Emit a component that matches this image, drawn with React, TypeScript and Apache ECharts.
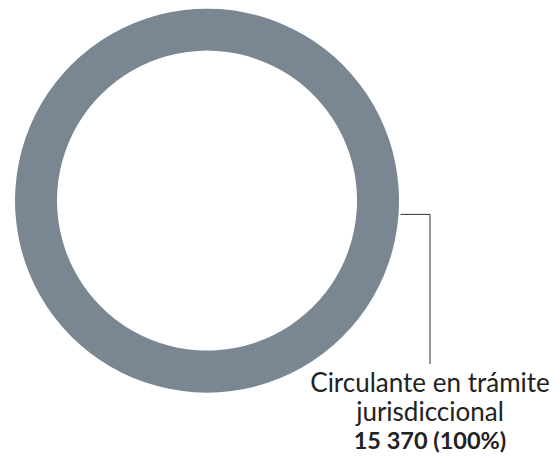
import React, { useEffect, useRef } from "react";
import * as echarts from "echarts";

const categories = ["Circulante en trámite jurisdiccional"];
const labelLines = ["Circulante en trámite", "jurisdiccional"];
const values = [15370];
const colors = ["#7a8792"];

function fmt(n: number): string {
  return String(n).replace(/\B(?=(\d{3})+(?!\d))/g, " ");
}

export default function App() {
  const ref = useRef<HTMLDivElement>(null);
  useEffect(() => {
    if (!ref.current) return;
    const chart = echarts.init(ref.current, null, { renderer: "svg" });
    const total = values.reduce((a, b) => a + b, 0);
    chart.setOption({
      animation: false,
      series: [
        {
          type: "pie",
          center: [207, 201],
          radius: [150, 192],
          startAngle: 176,
          silent: true,
          data: categories.map((c, i) => ({
            name: c,
            value: values[i],
            itemStyle: { color: colors[i] },
          })),
          label: {
            show: true,
            position: "outside",
            overflow: "none",
            width: 400,
            fontFamily: "Lato",
            color: "#222",
            formatter: (p: any) =>
              labelLines.map((l) => `{a|${l}}`).join("\n") +
              `\n{b|${fmt(p.value)} (${Math.round((p.value / total) * 100)}%)}`,
            rich: {
              a: { fontFamily: "Lato", fontSize: 26, lineHeight: 29, color: "#222" },
              b: { fontFamily: "Lato", fontSize: 23.5, lineHeight: 29, fontWeight: "bold", color: "#222" },
            },
          },
          labelLine: {
            show: true,
            lineStyle: { color: "#333", width: 1 },
          },
          labelLayout: (params: any) => {
            const p0 = params.labelLinePoints ? params.labelLinePoints[0] : [401, 215];
            const x0 = p0[0] + 2;
            return {
              x: 430,
              y: 367,
              width: 400,
              align: "center",
              verticalAlign: "top",
              labelLinePoints: [
                [x0, p0[1]],
                [430, p0[1]],
                [430, 364],
              ],
            };
          },
        },
      ],
    });
    return () => chart.dispose();
  }, []);
  return (
    <div
      ref={ref}
      style={{ position: "fixed", left: 0, top: 0, width: 559, height: 456, background: "#fff" }}
    />
  );
}
